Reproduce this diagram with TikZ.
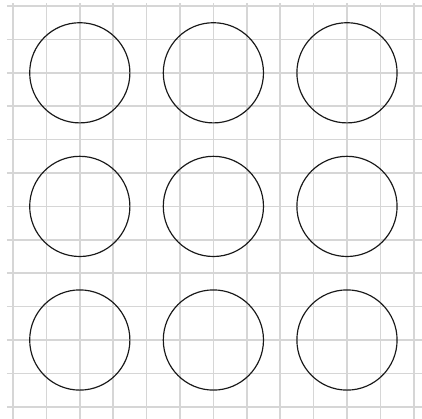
\documentclass[tikz,border=0pt]{standalone}
\usetikzlibrary{positioning}
\begin{document}
\begin{tikzpicture}[
    gridline/.style={draw=black!16, line width=1.4pt},
    ring/.style={circle, draw=black!90, line width=1pt, minimum size=3cm, inner sep=0pt}
  ]
  \useasboundingbox (-0.389,-0.365) rectangle (12.246,12.18);

  % Background grid
  \foreach \i in {0,...,12} {
    \draw[gridline] (-0.18,\i) -- (12.3,\i);
    \draw[gridline] (\i,-0.4) -- (\i,12.09);
  }

  % Circles, 3 x 3
  \foreach \x/\col in {2/a,6/b,10/c}
    \foreach \y/\row in {10/1,6/2,2/3}
      \node[ring] (\col\row) at (\x,\y) {};

\end{tikzpicture}
\end{document}
